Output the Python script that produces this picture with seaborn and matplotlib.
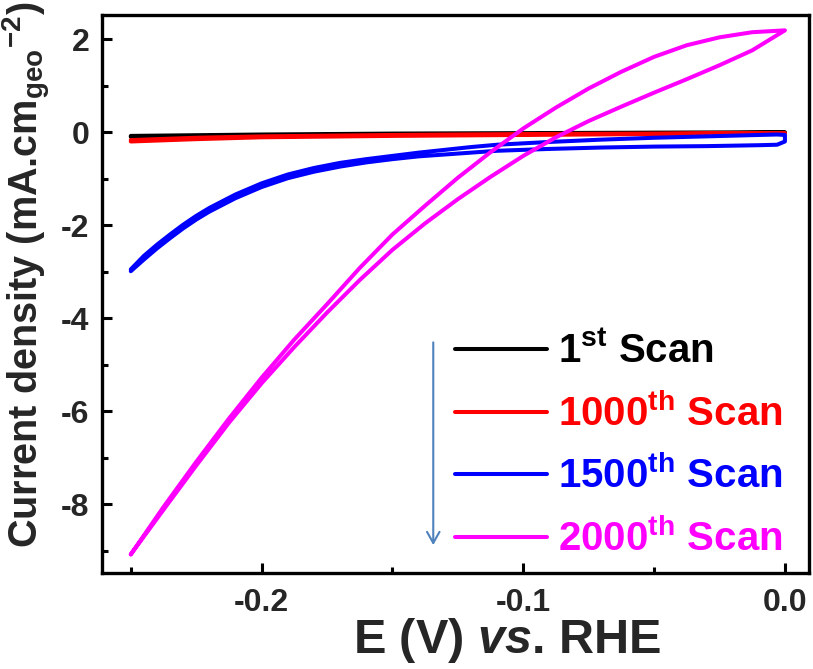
import numpy as np
import pandas as pd
import matplotlib
matplotlib.use("Agg")
import matplotlib.pyplot as plt
import seaborn as sns
from matplotlib.ticker import MultipleLocator, FormatStrFormatter

# ---------------- data ----------------
scan_labels = [r"1$^{st}$ Scan", r"1000$^{th}$ Scan", r"1500$^{th}$ Scan", r"2000$^{th}$ Scan"]
scan_colors = ["#000000", "#ff0000", "#0000ff", "#ff00ff"]

# 1st scan
s1_E = [-0.25, -0.2, -0.15, -0.1, -0.05, 0.0]
s1_up = [-0.08, -0.05, -0.03, -0.02, -0.01, 0.0]
s1_lo = [-0.10, -0.07, -0.05, -0.04, -0.03, -0.01]

# 1000th scan
s2_E = [-0.25, -0.225, -0.2, -0.15, -0.1, -0.05, 0.0]
s2_up = [-0.17, -0.12, -0.09, -0.06, -0.04, -0.03, -0.02]
s2_lo = [-0.20, -0.15, -0.11, -0.08, -0.06, -0.04, -0.02]

# 1500th scan
s3_E = [-0.25, -0.245, -0.24, -0.235, -0.23, -0.225, -0.22, -0.21, -0.2, -0.19,
        -0.18, -0.17, -0.16, -0.15, -0.14, -0.13, -0.12, -0.11, -0.09, -0.07,
        -0.05, -0.03, -0.01, -0.003, 0.0]
s3_up = [-2.95, -2.66, -2.42, -2.20, -1.99, -1.80, -1.63, -1.34, -1.10, -0.91,
         -0.77, -0.66, -0.58, -0.51, -0.44, -0.38, -0.32, -0.27, -0.21, -0.16,
         -0.12, -0.09, -0.06, -0.05, -0.06]
s3_lo = [-2.99, -2.74, -2.50, -2.28, -2.07, -1.88, -1.71, -1.42, -1.18, -0.99,
         -0.85, -0.74, -0.65, -0.58, -0.52, -0.48, -0.44, -0.40, -0.36, -0.33,
         -0.31, -0.30, -0.28, -0.27, -0.20]

# 2000th scan
s4_E = [-0.25, -0.2375, -0.225, -0.2125, -0.2, -0.1875, -0.175, -0.1625, -0.15,
        -0.1375, -0.125, -0.1125, -0.1, -0.0875, -0.075, -0.0625, -0.05,
        -0.0375, -0.025, -0.0125, 0.0]
s4_up = [-9.08, -8.06, -7.09, -6.16, -5.28, -4.46, -3.70, -2.92, -2.20,
         -1.58, -0.98, -0.43, 0.08, 0.53, 0.94, 1.30, 1.62,
         1.87, 2.04, 2.15, 2.19]
s4_lo = [-9.08, -8.12, -7.17, -6.25, -5.40, -4.62, -3.88, -3.18, -2.53,
         -1.96, -1.44, -0.96, -0.51, -0.11, 0.24, 0.55, 0.85,
         1.14, 1.44, 1.76, 2.19]

# ---------------- build long table ----------------
frames = []
for lab, E, up, lo in zip(scan_labels, [s1_E, s2_E, s3_E, s4_E],
                          [s1_up, s2_up, s3_up, s4_up], [s1_lo, s2_lo, s3_lo, s4_lo]):
    E_loop = list(E) + list(E)[::-1]
    j_loop = list(up) + list(lo)[::-1]
    frames.append(pd.DataFrame({"E": E_loop, "j": j_loop, "scan": lab}))
df = pd.concat(frames, ignore_index=True)

# ---------------- style ----------------
sns.set_style("white")
plt.rcParams.update({
    "font.family": ["Liberation Sans", "DejaVu Sans"],
    "font.weight": "bold",
    "axes.unicode_minus": False,
    "mathtext.fontset": "custom",
    "mathtext.rm": "Liberation Sans:bold",
    "mathtext.bf": "Liberation Sans:bold",
    "mathtext.it": "Liberation Sans:bold:italic",
    "mathtext.sf": "Liberation Sans:bold",
    "mathtext.default": "rm",
})

fig = plt.figure(figsize=(8.13, 6.69), dpi=100)
ax = fig.add_axes([102 / 813, 1 - 573 / 669, (809 - 102) / 813, (573 - 15) / 669])

palette = dict(zip(scan_labels, scan_colors))
sns.lineplot(data=df, x="E", y="j", hue="scan", hue_order=scan_labels,
             palette=palette, sort=False, estimator=None, units="scan",
             lw=2.9, ax=ax)

ax.set_xlim(-0.261, 0.0092)
ax.set_ylim(-9.48, 2.52)
ax.xaxis.set_major_locator(MultipleLocator(0.1))
ax.xaxis.set_minor_locator(MultipleLocator(0.05))
ax.yaxis.set_major_locator(MultipleLocator(2))
ax.yaxis.set_minor_locator(MultipleLocator(1))
ax.xaxis.set_major_formatter(FormatStrFormatter("%.1f"))
ax.yaxis.set_major_formatter(FormatStrFormatter("%d"))

for s in ax.spines.values():
    s.set_linewidth(2.4)
    s.set_color("black")
    s.set_visible(True)

ax.tick_params(axis="both", which="both", direction="in", left=True, bottom=True,
               top=False, right=False, width=2.2, color="black")
ax.tick_params(axis="both", which="major", length=7.5)
ax.tick_params(axis="both", which="minor", length=4)
ax.tick_params(axis="x", which="major", labelsize=23, pad=11)
ax.tick_params(axis="y", which="major", labelsize=23, pad=9)
for t in ax.get_xticklabels() + ax.get_yticklabels():
    t.set_fontweight("bold")

ax.set_xlabel(r"E (V) $\mathit{vs}$. RHE", fontsize=35, fontweight="bold")
ax.set_ylabel(r"Current density (mA.cm$_{geo}{}^{-2}$)", fontsize=28.5, fontweight="bold")
ax.xaxis.set_label_coords(0.573, -0.077)
ax.yaxis.set_label_coords(-0.07, 0.535)

handles, labels = ax.get_legend_handles_labels()
leg = ax.legend(handles, labels, loc="lower right", bbox_to_anchor=(1.0 - 10 / 707, -2 / 558),
                frameon=False, handlelength=2.3, handletextpad=0.27,
                labelspacing=0.55, borderaxespad=0.0,
                prop={"weight": "bold", "size": 29})
for t, c in zip(leg.get_texts(), scan_colors):
    t.set_color(c)
for h in leg.get_lines():
    h.set_linewidth(2.9)

ax.annotate("", xy=(-0.1344, -8.88), xytext=(-0.1344, -4.52),
            arrowprops=dict(arrowstyle="->,head_length=0.8,head_width=0.45",
                            color="#4f81bd", lw=1.5, mutation_scale=10,
                            shrinkA=0, shrinkB=0))

fig.savefig("out.png", dpi=100, facecolor="white")
